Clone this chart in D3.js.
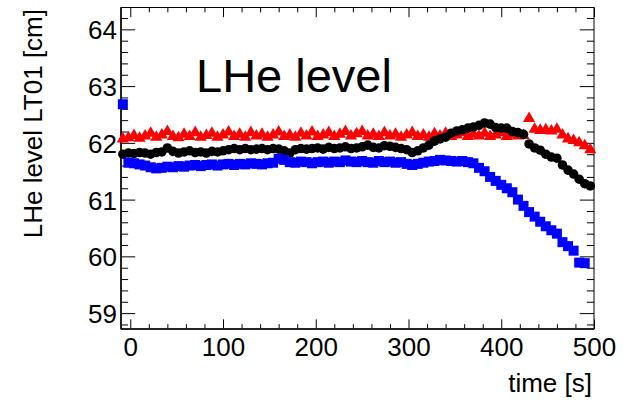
<!DOCTYPE html>
<html>
<head>
<meta charset="utf-8">
<script src="https://cdn.jsdelivr.net/npm/d3@7/dist/d3.min.js"></script>
<style>
  html, body { margin: 0; padding: 0; background: #fff; }
  svg { display: block; font-family: "Liberation Sans", Arial, Helvetica, sans-serif; }
</style>
</head>
<body>
<svg id="chart" width="627" height="400"></svg>
<script>
// Sampling times [s]
const times = [
  -8, -2, 4, 10, 16, 22, 28, 34, 40, 46,
  52, 58, 64, 70, 76, 82, 88, 94, 100, 106,
  112, 118, 124, 130, 136, 142, 148, 154, 160, 166,
  172, 178, 184, 190, 196, 202, 208, 214, 220, 226,
  232, 238, 244, 250, 256, 262, 268, 274, 280, 286,
  292, 298, 304, 310, 316, 322, 328, 334, 340, 346,
  352, 358, 364, 370, 376, 382, 388, 394, 400, 406,
  412, 418, 424, 430, 436, 442, 448, 454, 460, 466,
  472, 478, 484, 490, 496
];

// LHe level LT01 [cm], red triangles
const levelRed = [
  62.07, 62.09, 62.13, 62.08, 62.12, 62.17, 62.10, 62.14, 62.20, 62.11,
  62.09, 62.15, 62.11, 62.18, 62.10, 62.13, 62.17, 62.10, 62.14, 62.19,
  62.11, 62.15, 62.10, 62.18, 62.12, 62.15, 62.10, 62.14, 62.19, 62.11,
  62.14, 62.10, 62.17, 62.12, 62.19, 62.11, 62.14, 62.18, 62.11, 62.15,
  62.20, 62.12, 62.16, 62.20, 62.12, 62.15, 62.11, 62.18, 62.12, 62.15,
  62.10, 62.14, 62.18, 62.11, 62.14, 62.10, 62.16, 62.12, 62.17, 62.11,
  62.14, 62.18, 62.11, 62.15, 62.12, 62.17, 62.11, 62.14, 62.18, 62.11,
  62.15, 62.12, 62.13, 62.43, 62.24, 62.22, 62.23, 62.21, 62.24, 62.14,
  62.07, 62.04, 62.00, 61.95, 61.88
];

// LHe level LT01 [cm], black circles
const levelBlack = [
  61.80, 61.82, 61.81, 61.83, 61.82, 61.80, 61.83, 61.84, 61.91, 61.85,
  61.82, 61.84, 61.86, 61.83, 61.84, 61.82, 61.85, 61.84, 61.86, 61.88,
  61.90, 61.88, 61.90, 61.88, 61.89, 61.90, 61.88, 61.90, 61.89, 61.86,
  61.82, 61.88, 61.90, 61.89, 61.90, 61.91, 61.89, 61.92, 61.90, 61.91,
  61.93, 61.90, 61.91, 61.93, 61.96, 61.92, 61.91, 61.95, 61.94, 61.92,
  61.90, 61.88, 61.83, 61.86, 61.91, 61.96, 62.03, 62.07, 62.10, 62.17,
  62.21, 62.23, 62.26, 62.28, 62.31, 62.35, 62.33, 62.27, 62.26, 62.26,
  62.20, 62.18, 62.15, 61.98, 61.91, 61.87, 61.80, 61.75, 61.73, 61.61,
  61.52, 61.45, 61.36, 61.28, 61.24
];

// LHe level LT01 [cm], blue squares
const levelBlue = [
  62.68, 61.65, 61.64, 61.62, 61.60, 61.57, 61.55, 61.56, 61.58, 61.57,
  61.59, 61.58, 61.60, 61.61, 61.59, 61.61, 61.62, 61.60, 61.62, 61.63,
  61.61, 61.63, 61.62, 61.64, 61.63, 61.62, 61.64, 61.65, 61.72, 61.70,
  61.66, 61.65, 61.67, 61.66, 61.64, 61.66, 61.67, 61.65, 61.67, 61.66,
  61.69, 61.67, 61.66, 61.68, 61.66, 61.65, 61.68, 61.66, 61.67, 61.65,
  61.66, 61.63, 61.61, 61.63, 61.65, 61.67, 61.68, 61.70, 61.69, 61.68,
  61.67, 61.68, 61.66, 61.64, 61.56, 61.50, 61.40, 61.33, 61.26, 61.20,
  61.13, 61.00, 60.89, 60.78, 60.70, 60.61, 60.53, 60.46, 60.40, 60.25,
  60.18, 60.10, 59.89, 59.88, null
];

const xMajorTicks = [0, 100, 200, 300, 400, 500];
const yMajorTicks = [59, 60, 61, 62, 63, 64];

const svg = d3.select("#chart");

// frame box
const fx0 = 121, fx1 = 594, fy0 = 7.5, fy1 = 329;
const fw = fx1 - fx0, fh = fy1 - fy0;

const x = d3.scaleLinear().domain([-10, 500]).range([fx0, fx1]);
const y = d3.scaleLinear().domain([58.72, 64.385]).range([fy1, fy0]);

const xMinor = d3.range(0, 501, 20).filter(v => !xMajorTicks.includes(v));
const yMinor = d3.range(58.8, 64.39, 0.2).map(v => +v.toFixed(1)).filter(v => !yMajorTicks.includes(v));

const xTickLen = 0.03 * fh, yTickLen = 0.03 * fw;

function tickGroup(axisFn, scale, values, len, transform) {
  const g = svg.append("g").attr("transform", transform)
    .call(axisFn(scale).tickValues(values).tickSize(len).tickSizeOuter(0).tickFormat(""));
  g.select(".domain").remove();
  g.selectAll(".tick line").attr("stroke", "#000").attr("stroke-width", 1);
  return g;
}

// ticks drawn inside the frame on all four sides
tickGroup(d3.axisTop, x, xMajorTicks, xTickLen, `translate(0,${fy1})`);
tickGroup(d3.axisTop, x, xMinor, xTickLen / 2, `translate(0,${fy1})`);
tickGroup(d3.axisBottom, x, xMajorTicks, xTickLen, `translate(0,${fy0})`);
tickGroup(d3.axisBottom, x, xMinor, xTickLen / 2, `translate(0,${fy0})`);
tickGroup(d3.axisRight, y, yMajorTicks, yTickLen, `translate(${fx0},0)`);
tickGroup(d3.axisRight, y, yMinor, yTickLen / 2, `translate(${fx0},0)`);
tickGroup(d3.axisLeft, y, yMajorTicks, yTickLen, `translate(${fx1},0)`);
tickGroup(d3.axisLeft, y, yMinor, yTickLen / 2, `translate(${fx1},0)`);

// frame
svg.append("rect")
  .attr("x", fx0).attr("y", fy0).attr("width", fw).attr("height", fh)
  .attr("fill", "none").attr("stroke", "#000").attr("stroke-width", 1);
svg.append("line").attr("x1", fx0).attr("x2", fx0).attr("y1", fy0).attr("y2", fy1)
  .attr("stroke", "#222").attr("stroke-width", 2);
svg.append("line").attr("x1", fx0).attr("x2", fx1).attr("y1", fy1).attr("y2", fy1)
  .attr("stroke", "#222").attr("stroke-width", 2);

// tick labels
const bottomLabels = svg.append("g")
  .attr("transform", `translate(0,${fy1})`)
  .call(d3.axisBottom(x).tickValues(xMajorTicks).tickSize(0).tickPadding(0).tickFormat(d3.format("d")));
bottomLabels.select(".domain").remove();
bottomLabels.selectAll(".tick text")
  .attr("y", 27).attr("dy", null)
  .attr("font-size", 26).attr("fill", "#000")
  .attr("font-family", "Liberation Sans, Arial, sans-serif");

const leftLabels = svg.append("g")
  .attr("transform", `translate(${fx0},0)`)
  .call(d3.axisLeft(y).tickValues(yMajorTicks).tickSize(0).tickPadding(0).tickFormat(d3.format("d")));
leftLabels.select(".domain").remove();
leftLabels.selectAll(".tick text")
  .attr("x", -4).attr("dy", 9.5)
  .attr("font-size", 26).attr("fill", "#000")
  .attr("font-family", "Liberation Sans, Arial, sans-serif");

// axis titles
svg.append("text")
  .attr("x", 592).attr("y", 392)
  .attr("text-anchor", "end")
  .attr("font-size", 26)
  .text("time [s]");

svg.append("text")
  .attr("transform", "translate(42,9) rotate(-90)")
  .attr("text-anchor", "end")
  .attr("font-size", 26)
  .text("LHe level LT01 [cm]");

// plot title inside the frame
svg.append("text")
  .attr("x", 196).attr("y", 92)
  .attr("font-size", 47)
  .text("LHe level");

// data series
function drawSeries(values, symbolType, size, color) {
  const pts = times.map((t, i) => ({ t, v: values[i] })).filter(d => d.v !== null);
  svg.append("g").selectAll("path")
    .data(pts)
    .join("path")
    .attr("transform", d => `translate(${x(d.t)},${y(d.v)})`)
    .attr("d", d3.symbol().type(symbolType).size(size))
    .attr("fill", color);
}

drawSeries(levelRed, d3.symbolTriangle, 64, "#ff0000");
drawSeries(levelBlack, d3.symbolCircle, 72, "#000000");
drawSeries(levelBlue, d3.symbolSquare, 100, "#0000ff");
</script>
</body>
</html>
